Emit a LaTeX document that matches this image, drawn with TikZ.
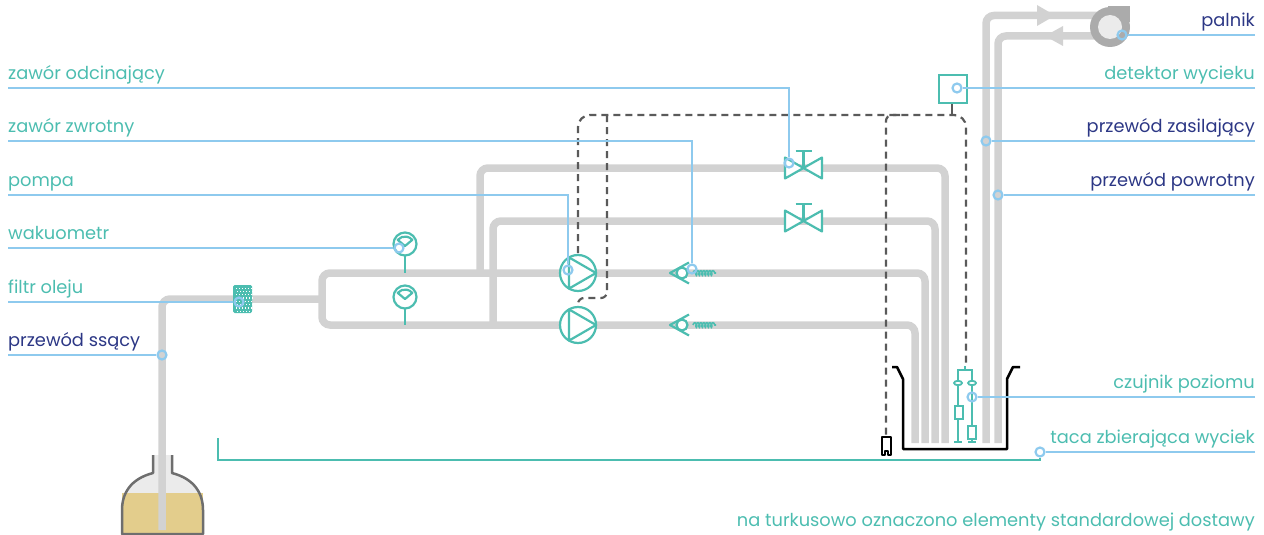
\documentclass[tikz,border=0pt]{standalone}
\usepackage{fontspec}
\setmainfont{Poppins}
\usetikzlibrary{decorations.pathmorphing}
\definecolor{tealc}{HTML}{4CBDB0}
\definecolor{navyc}{HTML}{2C3785}
\definecolor{leadc}{HTML}{8ECAEE}
\definecolor{pipec}{HTML}{D2D2D2}
\definecolor{dashc}{HTML}{5A5A5A}
\definecolor{tankc}{HTML}{6E6E6E}
\definecolor{oilc}{HTML}{E3CD8C}
\definecolor{airc}{HTML}{EBEBEB}
\definecolor{burnc}{HTML}{ABABAB}
\tikzset{
  pipe/.style={draw=pipec,line width=7.5pt,rounded corners=8pt},
  comp/.style={draw=tealc,line width=2.2pt},
  ctrl/.style={draw=dashc,line width=2.2pt,dash pattern=on 7pt off 5pt},
  leader/.style={draw=leadc,line width=2.2pt},
  pin/.style={circle,draw=leadc,line width=2.2pt,minimum size=9pt,inner sep=0pt},
  lbl/.style={font=\fontsize{17.8}{21}\selectfont,inner sep=0pt},
  lteal/.style={lbl,text=tealc},
  lnavy/.style={lbl,text=navyc},
}
\begin{document}
\begin{tikzpicture}[x=1pt,y=-1pt]
\useasboundingbox (0,0) rectangle (1264,535);

% ---- tank ----
\path[fill=airc] (153,455) -- (153,473) .. controls (130,479) and (122,494) .. (122,510)
  -- (122,534) -- (203,534) -- (203,510) .. controls (203,494) and (195,479) .. (172,473) -- (172,455) -- cycle;
\path[fill=oilc] (122,493) rectangle (203,534);
\draw[tankc,line width=2.5pt,line join=round] (153,455) -- (153,473) .. controls (130,479) and (122,494) .. (122,510)
  -- (122,534) -- (203,534) -- (203,510) .. controls (203,494) and (195,479) .. (172,473) -- (172,455);

% ---- pipes ----
\draw[pipe] (162,530) -- (162,299) -- (322,299);
\draw[pipe] (925,443) -- (925,273) -- (322,273) -- (322,325) -- (915,325) -- (915,443);
\draw[pipe] (945,443) -- (945,168) -- (480,168) -- (480,273);
\draw[pipe] (935,443) -- (935,221) -- (493,221) -- (493,325);
\draw[pipe] (986,443) -- (986,15.5) -- (1105,15.5);
\draw[pipe] (998,443) -- (998,36) -- (1105,36);
\fill[pipec] (1037,5) -- (1055,15.5) -- (1037,26) -- cycle;
\fill[pipec] (1045,36) -- (1063,26) -- (1063,46) -- cycle;

% ---- burner ----
\fill[burnc] (1108,6) rectangle (1130,22);
\fill[burnc] (1110,27) circle (20);
\fill[airc] (1110,27) circle (12);

% ---- control lines (dashed) ----
\draw[ctrl,rounded corners=12pt] (578,253) -- (578,115) -- (966,115) -- (966,367);
\draw[ctrl,rounded corners=6pt] (607,115) -- (607,298) -- (578,298) -- (578,306);
\draw[ctrl,rounded corners=6pt] (900,115) -- (886,115) -- (886,437);
\draw[dashc,line width=2.2pt] (952,103) -- (952,115);

% ---- leak detector ----
\draw[comp,fill=white] (939,75) rectangle (967,103);

% ---- shut-off valves ----
\foreach \y in {168,221}{
  \draw[comp,fill=white,line join=round] (785,\y-10.5) -- (822,\y+10.5) -- (822,\y-10.5) -- (785,\y+10.5) -- cycle;
  \draw[comp] (803.5,\y) -- (803.5,\y-17) (795.5,\y-17) -- (811.5,\y-17);
}

% ---- vacuum gauges ----
\foreach \y/\l in {244/273,297/325}{
  \draw[comp] (405,\y+11.5) -- (405,\l);
  \draw[comp,fill=white] (405,\y) circle (11.5);
  \draw[comp,line join=round] (405,\y+2) -- ++(-140:9.5) arc (-140:-40:9.5) -- cycle;
}

% ---- pumps ----
\foreach \y in {273,325}{
  \draw[comp,fill=white] (578,\y) circle (18);
  \draw[comp,line join=round] (578,\y) ++(0:18) -- ++(150:31.2) -- ++(270:31.2) -- cycle;
}

% ---- check valves ----
\foreach \y in {273,325}{
  \draw[comp,line width=1.6pt,decorate,decoration={coil,amplitude=2.3pt,segment length=3pt}] (693,\y) -- (716,\y);
  \draw[comp,line join=round] (689,\y-10.5) -- (670,\y) -- (689,\y+10.5);
  \draw[comp,fill=white] (682,\y) circle (5.5);
}

% ---- oil filter ----
\fill[tealc,rounded corners=1.5pt] (233,285) rectangle (252,313);
\foreach \i in {0,...,5}{
  \foreach \j in {0,...,7}{
    \pgfmathsetmacro{\xx}{235.5+\i*3+mod(\j,2)*1.5}
    \fill[white] (\xx,287.5+\j*3.3) rectangle ++(1.2,1.2);
  }
}

% ---- drip tray ----
\draw[black,line width=2.5pt,line join=round] (892,367) -- (897,367) -- (903,379) -- (903,449)
  -- (1007,449) -- (1007,379) -- (1013,367) -- (1020,367);
\draw[black,line width=2pt,fill=white,line join=round] (882,455) -- (882,437) -- (891,437) -- (891,455)
  -- (888,455) -- (888,451) -- (885,451) -- (885,455) -- cycle;

% ---- level sensor ----
\draw[comp,line width=2pt] (958,442) -- (958,370) -- (972,370) -- (972,442);
\draw[comp,line width=2pt] (965,366) -- (965,370);
\draw[comp,line width=2pt] (954,442) -- (962,442) (968,442) -- (976,442);
\draw[comp,line width=1.8pt,fill=white] (958,383) ellipse (4 and 2.2) (972,383) ellipse (4 and 2.2);
\draw[comp,line width=2pt,fill=white] (954.5,406) rectangle (962.5,419);
\draw[comp,line width=2pt,fill=white] (968,426) rectangle (976,439);

% ---- labels, left ----
\node[lteal,anchor=base west] (Lodc) at (8,79) {zawór odcinający};
\node[lteal,anchor=base west] (Lzw)  at (8,132) {zawór zwrotny};
\node[lteal,anchor=base west] (Lpom) at (8,186) {pompa};
\node[lteal,anchor=base west] (Lwak) at (8,239) {wakuometr};
\node[lteal,anchor=base west] (Lfil) at (8,293) {filtr oleju};
\node[lnavy,anchor=base west] (Lss)  at (8,346) {przewód ssący};
% ---- labels, right ----
\node[lnavy,anchor=base east] (Lpal) at (1255,27) {palnik};
\node[lteal,anchor=base east] (Ldet) at (1255,79) {detektor wycieku};
\node[lnavy,anchor=base east] (Lzas) at (1255,132) {przewód zasilający};
\node[lnavy,anchor=base east] (Lpow) at (1255,186) {przewód powrotny};
\node[lteal,anchor=base east] (Lczu) at (1255,388) {czujnik poziomu};
\node[lteal,anchor=base east] (Ltac) at (1255,443) {taca zbierająca wyciek};
\node[lteal,anchor=base east] (Lnote) at (1255,526) {na turkusowo oznaczono elementy standardowej dostawy};

% ---- leader pins ----
\node[pin] (Podc) at (789,163) {};
\node[pin] (Pzw)  at (692,269) {};
\node[pin] (Ppom) at (568,270) {};
\node[pin] (Pwak) at (399,248) {};
\node[pin] (Pfil) at (239,302) {};
\node[pin] (Pss)  at (162,355) {};
\node[pin] (Ppal) at (1122,35) {};
\node[pin] (Pdet) at (957,88) {};
\node[pin] (Pzas) at (986,141) {};
\node[pin] (Ppow) at (998,195) {};
\node[pin] (Pczu) at (972,397) {};
\node[pin] (Ptac) at (1040,452) {};

\coordinate (Aodc) at (8,88);
\coordinate (Azw)  at (8,141);
\coordinate (Apom) at (8,195);
\coordinate (Awak) at (8,248);
\coordinate (Afil) at (8,302);
\coordinate (Ass)  at (8,355);
\coordinate (Apal) at (1255,35);
\coordinate (Adet) at (1255,88);
\coordinate (Azas) at (1255,141);
\coordinate (Apow) at (1255,195);
\coordinate (Aczu) at (1255,397);
\coordinate (Atac) at (1255,452);
\coordinate (Tend) at (218,438);

\draw[leader] (Aodc) -| (Podc);
\draw[leader] (Azw) -| (Pzw);
\draw[leader] (Apom) -| (Ppom);
\draw[leader] (Awak) -- (Pwak);
\draw[leader] (Afil) -- (Pfil);
\draw[leader] (Ass) -- (Pss);
\draw[leader] (Apal) -- (Ppal);
\draw[leader] (Adet) -- (Pdet);
\draw[leader] (Azas) -- (Pzas);
\draw[leader] (Apow) -- (Ppow);
\draw[leader] (Aczu) -- (Pczu);
\draw[leader] (Atac) -- (Ptac);
\draw[tealc,line width=2.2pt] (Tend) |- (1040,460) -- (Ptac);
\end{tikzpicture}
\end{document}
